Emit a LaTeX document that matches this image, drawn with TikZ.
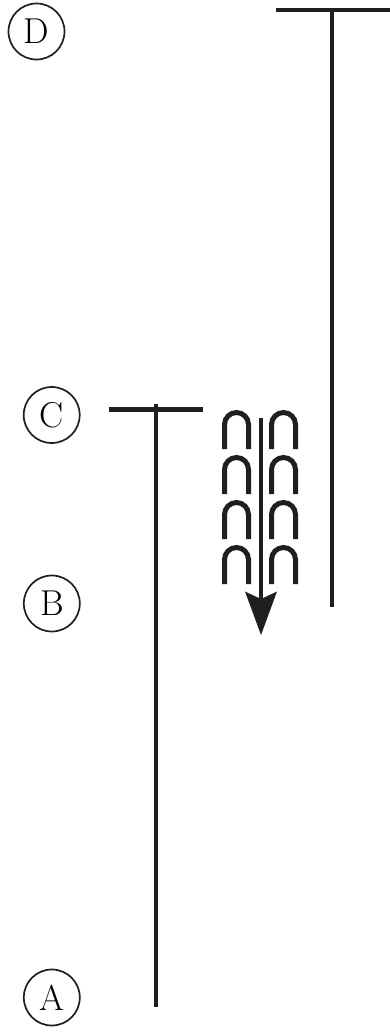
\documentclass[tikz,border=0pt]{standalone}
\usetikzlibrary{calc}
\begin{document}
\begin{tikzpicture}[x=1pt,y=-1pt,
  ink/.style={draw=black!88},
  label circle/.style={circle,ink,line width=1.7pt,minimum size=56pt,inner sep=0pt,
     font=\fontsize{36}{40}\selectfont},
  barline/.style={ink,line width=4.6pt},
  archline/.style={ink,line width=5pt},
  shaft/.style={ink,line width=4.6pt}]
\useasboundingbox (0,0) rectangle (390,1034);
% labels
\node[label circle] (D) at (36.5,31.5) {D};
\node[label circle] (C) at (51.7,415) {C};
\node[label circle] (B) at (51.8,603.5) {B};
\node[label circle] (A) at (51.8,997.5) {A};
% top T
\coordinate (dL) at (276,10);
\coordinate (dR) at (390,10);
\coordinate (dTop) at (332,10);
\coordinate (dBot) at (332,607);
\draw[barline] (dL) -- (dR);
\draw[barline] (dTop) -- (dBot);
% lower T
\coordinate (cL) at (109,409.5);
\coordinate (cR) at (203,409.5);
\coordinate (cTop) at (155.8,404);
\coordinate (cBot) at (155.8,1006.5);
\draw[barline] (cL) -- (cR);
\draw[barline] (cTop) -- (cBot);
% arches
\foreach \t in {410,455,500,545}{
  \foreach \cx in {236.5,283.5}{
    \draw[archline] (\cx-12,\t+39) -- (\cx-12,\t+14.5)
      arc[start angle=180,end angle=0,radius=12pt] -- (\cx+12,\t+39);
  }
}
% arrow
\coordinate (aTop) at (261,418);
\coordinate (aTip) at (261,635);
\draw[shaft] (aTop) -- (261,600);
\fill[black!88] (aTip) -- (245,591.5) -- (261,599) -- (277,591.5) -- cycle;
\end{tikzpicture}
\end{document}
